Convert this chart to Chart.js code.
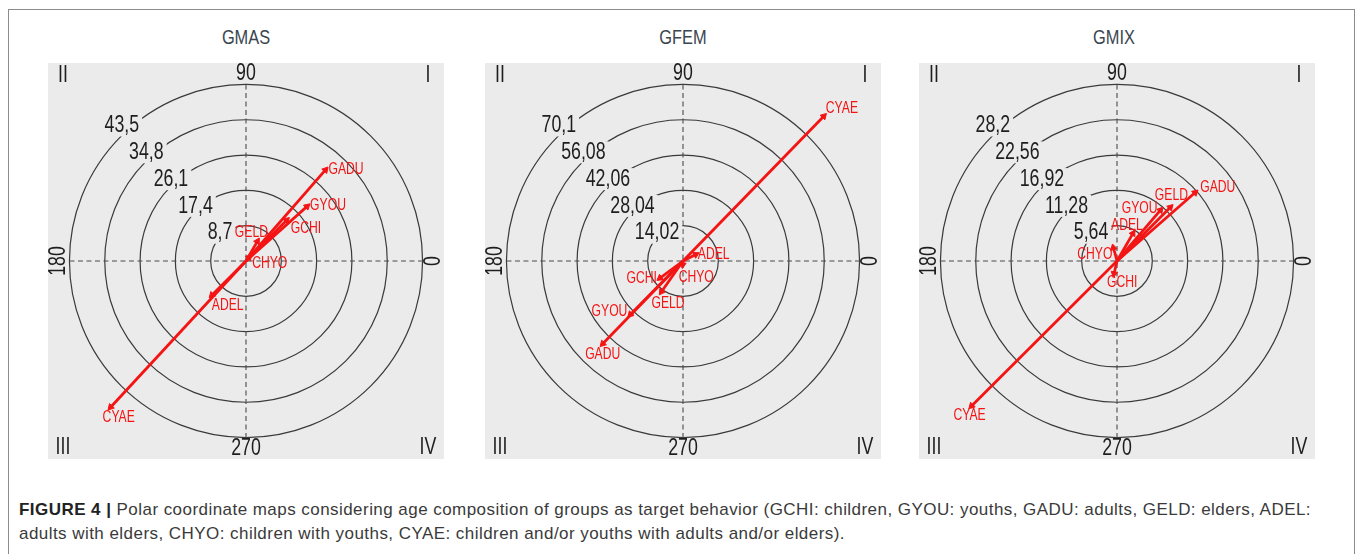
<!DOCTYPE html>
<html>
<head>
<meta charset="utf-8">
<script src="https://cdn.jsdelivr.net/npm/chart.js@4.4.0/dist/chart.umd.min.js"></script>
<style>
body { margin: 0; background: #fff; width: 1357px; height: 554px; overflow: hidden; font-family: 'Liberation Sans', Arial, sans-serif; position: relative; }
.frame { position: absolute; left: 8px; top: 9px; width: 1345px; height: 580px; border: 1.5px solid #8c8c8c; border-bottom: none; }
.panel { position: absolute; top: 58px; width: 406px; height: 406px; }
.title { position: absolute; top: 26px; width: 200px; text-align: center; font-size: 21px; line-height: 22px; color: #3b4650; transform: scaleX(0.78); }
.caption { position: absolute; left: 19px; top: 498px; width: 1340px; font-size: 17px; letter-spacing: 0.45px; line-height: 24px; color: #3a3a3a; white-space: nowrap; }
.caption b { color: #222; }
</style>
</head>
<body>
<div class="frame"></div>
<div class="title" style="left:146px">GMAS</div>
<div class="title" style="left:583px">GFEM</div>
<div class="title" style="left:1014px">GMIX</div>
<div class="panel" style="left:43px"><canvas id="chartGMAS" width="406" height="406"></canvas></div>
<div class="panel" style="left:480px"><canvas id="chartGFEM" width="406" height="406"></canvas></div>
<div class="panel" style="left:914px"><canvas id="chartGMIX" width="406" height="406"></canvas></div>
<div class="caption"><b>FIGURE 4 |</b> Polar coordinate maps considering age composition of groups as target behavior (GCHI: children, GYOU: youths, GADU: adults, GELD: elders, ADEL:<br>adults with elders, CHYO: children with youths, CYAE: children and/or youths with adults and/or elders).</div>

<script>
// Vector codes (same order in every panel)
const CODES = ['GCHI', 'GYOU', 'GADU', 'GELD', 'ADEL', 'CHYO', 'CYAE'];

// GMAS
const LENGTH_GMAS = [14.2, 20.2, 29.8, 5.6, 11.9, 1.2, 49.1];
const ANGLE_GMAS = [45.1, 41.8, 48.9, 59.9, 225, 50, 227.2];
const TICKS_GMAS = [8.7, 17.4, 26.1, 34.8, 43.5];
const TICK_LABELS_GMAS = ['8,7', '17,4', '26,1', '34,8', '43,5'];

// GFEM
const LENGTH_GFEM = [11.4, 29.8, 45.8, 14.9, 5.7, 1.5, 80.2];
const ANGLE_GFEM = [216.6, 225.5, 225.9, 235, 27, 265, 45.8];
const TICKS_GFEM = [14.02, 28.04, 42.06, 56.08, 70.1];
const TICK_LABELS_GFEM = ['14,02', '28,04', '42,06', '56,08', '70,1'];

// GMIX
const LENGTH_GMIX = [2.1, 10.7, 16.6, 12.1, 5.1, 2.2, 32.8];
const ANGLE_GMIX = [257, 49.5, 41.2, 45.2, 60, 105, 224.9];
const TICKS_GMIX = [5.64, 11.28, 16.92, 22.56, 28.2];
const TICK_LABELS_GMIX = ['5,64', '11,28', '16,92', '22,56', '28,2'];

const AXIS_LABELS = ['0', '90', '180', '270'];
const QUADRANTS = ['I', 'II', 'III', 'IV'];

// label placement relative to arrow tip: [dx, dy, align]
const LABEL_POS_GMAS = [[4, 8, 'left'], [3, -1, 'left'], [3, 0, 'left'], [-6, -9, 'center'], [0, 10, 'left'], [3, 6, 'left'], [-8, 10, 'left']];
const LABEL_POS_GFEM = [[-3, 0, 'right'], [-3, -3, 'right'], [0, 11, 'center'], [-10, 12, 'left'], [2, 0, 'left'], [-4, 13, 'left'], [2, -8, 'left']];
const LABEL_POS_GMIX = [[-7, 9, 'left'], [-3, -1, 'right'], [5, -5, 'left'], [1, -12, 'center'], [-6, -8, 'center'], [-1, 7, 'right'], [-2, 10, 'center']];

const RED = '#f41414';
const INK = '#1e1e1e';
const FONT = '"Liberation Sans", Arial, sans-serif';
// gray square half width vs outer ring radius (203px / 181px)
const AREA_RATIO = 203 / 181;

function drawText(ctx, txt, x, y, size, color, align, sx, rot) {
    ctx.save();
    ctx.translate(x, y);
    if (rot) ctx.rotate(rot);
    ctx.scale(sx, 1);
    ctx.font = size + 'px ' + FONT;
    ctx.fillStyle = color;
    ctx.textAlign = align;
    ctx.textBaseline = 'middle';
    ctx.fillText(txt, 0, 0);
    ctx.restore();
}

function makePolarPlugin(ticks, tickLabels, codes, labelPos) {
    return {
        id: 'polarGrid',
        beforeDatasetsDraw(chart) {
            const { ctx, chartArea: a, scales: { x, y } } = chart;
            const cx = x.getPixelForValue(0);
            const cy = y.getPixelForValue(0);
            ctx.save();
            ctx.fillStyle = '#ebebeb';
            ctx.fillRect(a.left, a.top, a.width, a.height);

            // rings
            ctx.strokeStyle = '#3a3a3a';
            ctx.lineWidth = 1.2;
            const radii = ticks.map(t => x.getPixelForValue(t) - cx);
            radii.forEach(r => {
                ctx.beginPath();
                ctx.arc(cx, cy, r, 0, Math.PI * 2);
                ctx.stroke();
            });
            const outer = radii[radii.length - 1];

            // dashed axes
            ctx.setLineDash([5, 3.5]);
            ctx.strokeStyle = '#4a4a4a';
            ctx.lineWidth = 1.1;
            ctx.beginPath();
            ctx.moveTo(cx - outer, cy); ctx.lineTo(cx + outer, cy);
            ctx.moveTo(cx, cy - outer); ctx.lineTo(cx, cy + outer);
            ctx.stroke();
            ctx.setLineDash([]);

            // angle labels
            const d = outer + 11;
            drawText(ctx, AXIS_LABELS[0], cx + d, cy, 24, INK, 'center', 0.74, -Math.PI / 2);
            drawText(ctx, AXIS_LABELS[1], cx, cy - d, 24, INK, 'center', 0.74);
            drawText(ctx, AXIS_LABELS[2], cx - d, cy, 24, INK, 'center', 0.74, -Math.PI / 2);
            drawText(ctx, AXIS_LABELS[3], cx, cy + d, 24, INK, 'center', 0.74);

            // quadrants
            drawText(ctx, QUADRANTS[0], a.right - 16, a.top + 12, 24, INK, 'center', 0.74);
            drawText(ctx, QUADRANTS[1], a.left + 15, a.top + 12, 24, INK, 'center', 0.74);
            drawText(ctx, QUADRANTS[2], a.left + 15, a.bottom - 12, 24, INK, 'center', 0.74);
            drawText(ctx, QUADRANTS[3], a.right - 16, a.bottom - 12, 24, INK, 'center', 0.74);

            // ring values
            const ang = 132.5 * Math.PI / 180;
            radii.forEach((r, i) => {
                const rr = r * 1.03 + 2;
                const px = cx + rr * Math.cos(ang);
                const py = cy - rr * Math.sin(ang);
                ctx.font = '24px ' + FONT;
                const w = ctx.measureText(tickLabels[i]).width * 0.74;
                ctx.fillStyle = '#ebebeb';
                ctx.fillRect(px - w / 2 - 3, py - 11, w + 6, 22);
                drawText(ctx, tickLabels[i], px, py, 24, INK, 'center', 0.74);
            });
            ctx.restore();
        },
        afterDatasetsDraw(chart) {
            const { ctx, scales: { x, y } } = chart;
            chart.data.datasets.forEach((ds, i) => {
                const tip = ds.data[1];
                const px = x.getPixelForValue(tip.x);
                const py = y.getPixelForValue(tip.y);
                const p = labelPos[i];
                drawText(ctx, codes[i], px + p[0], py + p[1], 16, RED, p[2], 0.76);
            });
        }
    };
}

function buildChart(id, lengths, angles, ticks, tickLabels, labelPos) {
    const range = ticks[ticks.length - 1] * AREA_RATIO;
    const datasets = CODES.map((code, i) => {
        const t = angles[i] * Math.PI / 180;
        return {
            label: code,
            data: [{ x: 0, y: 0 }, { x: lengths[i] * Math.cos(t), y: lengths[i] * Math.sin(t) }],
            showLine: true,
            borderColor: RED,
            borderWidth: 2.8,
            pointStyle: 'triangle',
            pointRadius: c => c.dataIndex === 1 ? 3.8 : 0,
            pointRotation: 90 - angles[i],
            pointBackgroundColor: RED,
            pointBorderColor: RED,
            pointBorderWidth: 1,
            clip: false
        };
    });

    new Chart(document.getElementById(id), {
        type: 'scatter',
        data: { datasets },
        options: {
            responsive: false,
            animation: false,
            layout: { padding: 0 },
            plugins: { legend: { display: false }, tooltip: { enabled: false } },
            scales: {
                x: { type: 'linear', min: -range, max: range, display: false },
                y: { type: 'linear', min: -range, max: range, display: false }
            }
        },
        plugins: [makePolarPlugin(ticks, tickLabels, CODES, labelPos)]
    });
}

buildChart('chartGMAS', LENGTH_GMAS, ANGLE_GMAS, TICKS_GMAS, TICK_LABELS_GMAS, LABEL_POS_GMAS);
buildChart('chartGFEM', LENGTH_GFEM, ANGLE_GFEM, TICKS_GFEM, TICK_LABELS_GFEM, LABEL_POS_GFEM);
buildChart('chartGMIX', LENGTH_GMIX, ANGLE_GMIX, TICKS_GMIX, TICK_LABELS_GMIX, LABEL_POS_GMIX);
</script>
</body>
</html>
